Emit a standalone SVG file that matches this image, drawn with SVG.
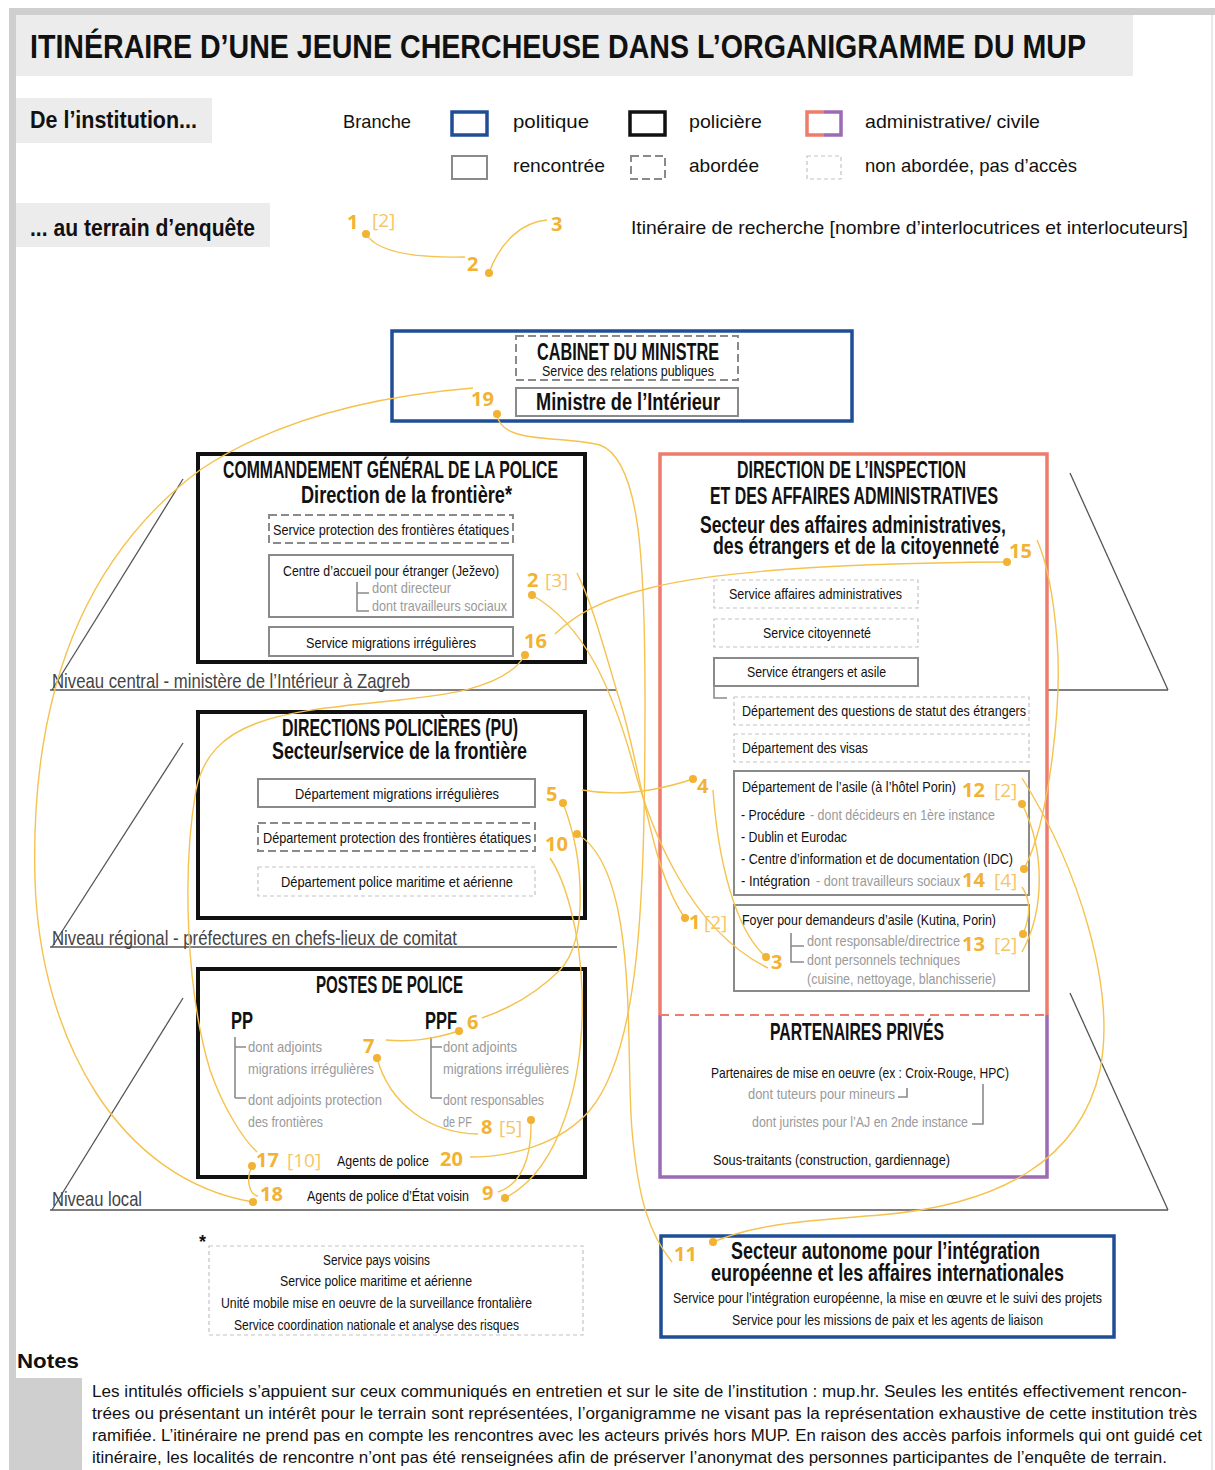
<svg xmlns="http://www.w3.org/2000/svg" width="1215" height="1470" viewBox="0 0 1215 1470">
<style>
text{font-family:"Liberation Sans Narrow","Liberation Sans",Arial,sans-serif}
.t{font-size:15px;fill:#111}
.g{font-size:15px;fill:#9a9a9a}
.h{font-size:23px;font-weight:bold;fill:#111}
.leg{font-size:19px;fill:#111}
.lvl{font-size:21px;fill:#444}
.n{font-family:"Open Sans","Liberation Sans",sans-serif;font-size:20px;font-weight:bold;fill:#f2b233}
.b{font-family:"Open Sans","Liberation Sans",sans-serif;font-size:19px;fill:#f6c565}
.note{font-size:16px;fill:#111}
.pol{fill:none;stroke:#1f4e96;stroke-width:3.5}
.police{fill:none;stroke:#111;stroke-width:4}
.met{fill:#fff;stroke:#8a8a8a;stroke-width:2}
.abo{fill:#fff;stroke:#8a8a8a;stroke-width:2;stroke-dasharray:8 4}
.non{fill:#fff;stroke:#c4c4c4;stroke-width:1.2;stroke-dasharray:4 3}
.brk{fill:none;stroke:#8a8a8a;stroke-width:1.6}
.lv{fill:none;stroke:#555;stroke-width:1.3}
.it{fill:none;stroke:#f5c24e;stroke-width:1.4}
.dot{fill:#f2b233}
</style>

<!-- page frame -->
<rect x="9" y="8" width="1206" height="7" fill="#cfcfcf"/>
<rect x="9" y="8" width="7" height="1462" fill="#cfcfcf"/>
<line x1="1212" y1="15" x2="1212" y2="1470" stroke="#e2e2e2" stroke-width="1.5"/>

<!-- title -->
<g id="title">
<rect x="16" y="15" width="1117" height="61" fill="#ececec"/>
<text x="30" y="58" font-size="34" font-weight="bold" fill="#111" textLength="1056" lengthAdjust="spacingAndGlyphs">ITINÉRAIRE D’UNE JEUNE CHERCHEUSE DANS L’ORGANIGRAMME DU MUP</text>
</g>

<!-- legend -->
<g id="legend">
<rect x="16" y="98" width="196" height="45" fill="#ececec"/>
<text x="30" y="128" font-size="24" font-weight="bold" fill="#111" textLength="167" lengthAdjust="spacingAndGlyphs">De l’institution...</text>
<rect x="16" y="203" width="254" height="44" fill="#ececec"/>
<text x="30" y="236" font-size="24" font-weight="bold" fill="#111" textLength="225" lengthAdjust="spacingAndGlyphs">... au terrain d’enquête</text>
<text class="leg" x="343" y="128" textLength="68" lengthAdjust="spacingAndGlyphs">Branche</text>
<rect x="452" y="112" width="35" height="23" class="pol"/>
<text class="leg" x="513" y="128" textLength="76" lengthAdjust="spacingAndGlyphs">politique</text>
<rect x="630" y="112" width="35" height="23" fill="none" stroke="#111" stroke-width="3.5"/>
<text class="leg" x="689" y="128" textLength="73" lengthAdjust="spacingAndGlyphs">policière</text>
<path d="M824,112 H807 V135 H824" fill="none" stroke="#ee7b6b" stroke-width="3.5"/>
<path d="M824,112 H841 V135 H824" fill="none" stroke="#9b6bb5" stroke-width="3.5"/>
<text class="leg" x="865" y="128" textLength="175" lengthAdjust="spacingAndGlyphs">administrative/ civile</text>
<rect x="452" y="156" width="35" height="23" class="met"/>
<text class="leg" x="513" y="172" textLength="92" lengthAdjust="spacingAndGlyphs">rencontrée</text>
<rect x="631" y="156" width="34" height="23" class="abo" stroke-dasharray="6 4"/>
<text class="leg" x="689" y="172" textLength="70" lengthAdjust="spacingAndGlyphs">abordée</text>
<rect x="807" y="156" width="34" height="23" class="non"/>
<text class="leg" x="865" y="172" textLength="212" lengthAdjust="spacingAndGlyphs">non abordée, pas d’accès</text>
<path class="it" d="M366,234 C378,254 420,258 465,257"/>
<path class="it" d="M489,273 C500,242 522,222 547,220"/>
<circle class="dot" cx="366" cy="234" r="4"/>
<circle class="dot" cx="489" cy="273" r="4"/>
<text class="n" x="347" y="229">1</text>
<text class="b" x="372" y="227">[2]</text>
<text class="n" x="467" y="271">2</text>
<text class="n" x="551" y="231">3</text>
<text class="leg" x="631" y="234" textLength="557" lengthAdjust="spacingAndGlyphs">Itinéraire de recherche [nombre d’interlocutrices et interlocuteurs]</text>
</g>

<!-- level lines -->
<g id="levels">
<line class="lv" x1="50" y1="690" x2="617" y2="690"/>
<line class="lv" x1="52" y1="690" x2="183" y2="479"/>
<line class="lv" x1="1048" y1="690" x2="1168" y2="690"/>
<line class="lv" x1="1070" y1="473" x2="1168" y2="690"/>
<text class="lvl" x="52" y="688" textLength="358" lengthAdjust="spacingAndGlyphs">Niveau central - ministère de l’Intérieur à Zagreb</text>
<line class="lv" x1="50" y1="947" x2="617" y2="947"/>
<line class="lv" x1="52" y1="947" x2="183" y2="743"/>
<text class="lvl" x="52" y="945" textLength="405" lengthAdjust="spacingAndGlyphs">Niveau régional - préfectures en chefs-lieux de comitat</text>
<line class="lv" x1="50" y1="1210" x2="1168" y2="1210"/>
<line class="lv" x1="52" y1="1210" x2="183" y2="998"/>
<line class="lv" x1="1070" y1="993" x2="1168" y2="1210"/>
<text class="lvl" x="52" y="1206" textLength="90" lengthAdjust="spacingAndGlyphs">Niveau local</text>
</g>

<!-- Cabinet -->
<g id="cabinet">
<rect x="392" y="331" width="460" height="90" fill="#fff" class="pol"/>
<rect x="516" y="336" width="222" height="44" class="abo"/>
<text class="h" x="537" y="360" font-size="22" textLength="182" lengthAdjust="spacingAndGlyphs">CABINET DU MINISTRE</text>
<text class="t" x="542" y="376" textLength="172" lengthAdjust="spacingAndGlyphs">Service des relations publiques</text>
<rect x="516" y="388" width="222" height="28" class="met"/>
<text class="h" x="536" y="410" font-size="22" textLength="184" lengthAdjust="spacingAndGlyphs">Ministre de l’Intérieur</text>
</g>

<!-- Commandement -->
<g id="commandement">
<rect x="198" y="454" width="387" height="208" fill="#fff" class="police"/>
<text class="h" x="223" y="478" textLength="335" lengthAdjust="spacingAndGlyphs">COMMANDEMENT GÉNÉRAL DE LA POLICE</text>
<text class="h" x="301" y="503" textLength="211" lengthAdjust="spacingAndGlyphs">Direction de la frontière*</text>
<rect x="269" y="515" width="244" height="28" class="abo"/>
<text class="t" x="273" y="535" textLength="236" lengthAdjust="spacingAndGlyphs">Service protection des frontières étatiques</text>
<rect x="269" y="555" width="244" height="62" class="met"/>
<text class="t" x="283" y="576" textLength="216" lengthAdjust="spacingAndGlyphs">Centre d’accueil pour étranger (Ježevo)</text>
<path class="brk" d="M357,582 V593 H369 M357,593 V611 H369"/>
<text class="g" x="372" y="593" textLength="79" lengthAdjust="spacingAndGlyphs">dont directeur</text>
<text class="g" x="372" y="611" textLength="135" lengthAdjust="spacingAndGlyphs">dont travailleurs sociaux</text>
<rect x="269" y="627" width="244" height="29" class="met"/>
<text class="t" x="306" y="648" textLength="170" lengthAdjust="spacingAndGlyphs">Service migrations irrégulières</text>
</g>

<!-- Directions policieres -->
<g id="directions">
<rect x="198" y="712" width="387" height="206" fill="#fff" class="police"/>
<text class="h" x="282" y="736" textLength="236" lengthAdjust="spacingAndGlyphs">DIRECTIONS POLICIÈRES (PU)</text>
<text class="h" x="272" y="759" textLength="255" lengthAdjust="spacingAndGlyphs">Secteur/service de la frontière</text>
<rect x="258" y="779" width="277" height="28" class="met"/>
<text class="t" x="295" y="799" textLength="204" lengthAdjust="spacingAndGlyphs">Département migrations irrégulières</text>
<rect x="258" y="823" width="277" height="28" class="abo"/>
<text class="t" x="263" y="843" textLength="268" lengthAdjust="spacingAndGlyphs">Département protection des frontières étatiques</text>
<rect x="258" y="867" width="277" height="29" class="non"/>
<text class="t" x="281" y="887" textLength="232" lengthAdjust="spacingAndGlyphs">Département police maritime et aérienne</text>
</g>

<!-- Postes de police -->
<g id="postes">
<rect x="198" y="969" width="387" height="208" fill="#fff" class="police"/>
<text class="h" x="316" y="993" textLength="147" lengthAdjust="spacingAndGlyphs">POSTES DE POLICE</text>
<text class="h" x="231" y="1029" textLength="22" lengthAdjust="spacingAndGlyphs">PP</text>
<text class="h" x="425" y="1029" textLength="32" lengthAdjust="spacingAndGlyphs">PPF</text>
<path class="brk" d="M235,1037 V1098 M235,1047 H246 M235,1098 H246"/>
<text class="g" x="248" y="1052" textLength="74" lengthAdjust="spacingAndGlyphs">dont adjoints</text>
<text class="g" x="248" y="1074" textLength="126" lengthAdjust="spacingAndGlyphs">migrations irrégulières</text>
<text class="g" x="248" y="1105" textLength="134" lengthAdjust="spacingAndGlyphs">dont adjoints protection</text>
<text class="g" x="248" y="1127" textLength="75" lengthAdjust="spacingAndGlyphs">des frontières</text>
<path class="brk" d="M431,1037 V1098 M431,1047 H442 M431,1098 H442"/>
<text class="g" x="443" y="1052" textLength="74" lengthAdjust="spacingAndGlyphs">dont adjoints</text>
<text class="g" x="443" y="1074" textLength="126" lengthAdjust="spacingAndGlyphs">migrations irrégulières</text>
<text class="g" x="443" y="1105" textLength="101" lengthAdjust="spacingAndGlyphs">dont responsables</text>
<text class="g" x="443" y="1127" textLength="29" lengthAdjust="spacingAndGlyphs">de PF</text>
<text class="t" x="337" y="1166" textLength="92" lengthAdjust="spacingAndGlyphs">Agents de police</text>
<text class="t" x="307" y="1201" textLength="162" lengthAdjust="spacingAndGlyphs">Agents de police d’État voisin</text>
</g>

<!-- Direction de l'inspection + partenaires prives -->
<g id="inspection">
<rect x="660" y="454" width="387" height="723" fill="#fff"/>
<path d="M660,1015 V454 H1047 V1015" fill="none" stroke="#ee7b6b" stroke-width="3.5"/>
<path d="M660,1015 V1177 H1047 V1015" fill="none" stroke="#9b6bb5" stroke-width="3.5"/>
<line x1="660" y1="1015" x2="1047" y2="1015" stroke="#ee7b6b" stroke-width="2" stroke-dasharray="9 6"/>
<text class="h" x="737" y="478" textLength="229" lengthAdjust="spacingAndGlyphs">DIRECTION DE L’INSPECTION</text>
<text class="h" x="710" y="504" textLength="288" lengthAdjust="spacingAndGlyphs">ET DES AFFAIRES ADMINISTRATIVES</text>
<text class="h" x="700" y="533" textLength="306" lengthAdjust="spacingAndGlyphs">Secteur des affaires administratives,</text>
<text class="h" x="713" y="554" textLength="286" lengthAdjust="spacingAndGlyphs">des étrangers et de la citoyenneté</text>
<rect x="714" y="580" width="204" height="28" class="non"/>
<text class="t" x="729" y="599" textLength="173" lengthAdjust="spacingAndGlyphs">Service affaires administratives</text>
<rect x="714" y="619" width="204" height="28" class="non"/>
<text class="t" x="763" y="638" textLength="108" lengthAdjust="spacingAndGlyphs">Service citoyenneté</text>
<rect x="714" y="658" width="204" height="28" class="met"/>
<text class="t" x="747" y="677" textLength="139" lengthAdjust="spacingAndGlyphs">Service étrangers et asile</text>
<path class="brk" d="M714,686 V698 H727"/>
<rect x="734" y="697" width="295" height="28" class="non"/>
<text class="t" x="742" y="716" textLength="284" lengthAdjust="spacingAndGlyphs">Département des questions de statut des étrangers</text>
<rect x="734" y="734" width="295" height="28" class="non"/>
<text class="t" x="742" y="753" textLength="126" lengthAdjust="spacingAndGlyphs">Département des visas</text>
<rect x="734" y="771" width="295" height="124" class="met"/>
<text class="t" x="742" y="792" textLength="214" lengthAdjust="spacingAndGlyphs">Département de l’asile (à l’hôtel Porin)</text>
<text class="t" x="741" y="820" textLength="64" lengthAdjust="spacingAndGlyphs">- Procédure</text>
<text class="g" x="810" y="820" textLength="185" lengthAdjust="spacingAndGlyphs">- dont décideurs en 1ère instance</text>
<text class="t" x="741" y="842" textLength="106" lengthAdjust="spacingAndGlyphs">- Dublin et Eurodac</text>
<text class="t" x="741" y="864" textLength="272" lengthAdjust="spacingAndGlyphs">- Centre d’information et de documentation (IDC)</text>
<text class="t" x="741" y="886" textLength="69" lengthAdjust="spacingAndGlyphs">- Intégration</text>
<text class="g" x="816" y="886" textLength="144" lengthAdjust="spacingAndGlyphs">- dont travailleurs sociaux</text>
<rect x="734" y="905" width="295" height="86" class="met"/>
<text class="t" x="742" y="925" textLength="254" lengthAdjust="spacingAndGlyphs">Foyer pour demandeurs d’asile (Kutina, Porin)</text>
<path class="brk" d="M791,933 V946 H804 M791,946 V962 H804"/>
<text class="g" x="807" y="946" textLength="153" lengthAdjust="spacingAndGlyphs">dont responsable/directrice</text>
<text class="g" x="807" y="965" textLength="153" lengthAdjust="spacingAndGlyphs">dont personnels techniques</text>
<text class="g" x="807" y="984" textLength="189" lengthAdjust="spacingAndGlyphs">(cuisine, nettoyage, blanchisserie)</text>
<text class="h" x="770" y="1040" textLength="174" lengthAdjust="spacingAndGlyphs">PARTENAIRES PRIVÉS</text>
<text class="t" x="711" y="1078" textLength="298" lengthAdjust="spacingAndGlyphs">Partenaires de mise en oeuvre (ex : Croix-Rouge, HPC)</text>
<text class="g" x="748" y="1099" textLength="147" lengthAdjust="spacingAndGlyphs">dont tuteurs pour mineurs</text>
<path class="brk" d="M898,1097 H907 V1088"/>
<text class="g" x="752" y="1127" textLength="216" lengthAdjust="spacingAndGlyphs">dont juristes pour l’AJ en 2nde instance</text>
<path class="brk" d="M983,1084 V1124 H972"/>
<text class="t" x="713" y="1165" textLength="237" lengthAdjust="spacingAndGlyphs">Sous-traitants (construction, gardiennage)</text>
</g>

<!-- asterisk box -->
<g id="asterisk">
<text x="199" y="1248" font-size="18" font-weight="bold" fill="#111">*</text>
<rect x="209" y="1246" width="374" height="89" class="non"/>
<text class="t" x="323" y="1265" textLength="107" lengthAdjust="spacingAndGlyphs">Service pays voisins</text>
<text class="t" x="280" y="1286" textLength="192" lengthAdjust="spacingAndGlyphs">Service police maritime et aérienne</text>
<text class="t" x="221" y="1308" textLength="311" lengthAdjust="spacingAndGlyphs">Unité mobile mise en oeuvre de la surveillance frontalière</text>
<text class="t" x="234" y="1330" textLength="285" lengthAdjust="spacingAndGlyphs">Service coordination nationale et analyse des risques</text>
</g>

<!-- Secteur autonome -->
<g id="secteur-autonome">
<rect x="661" y="1236" width="453" height="101" fill="#fff" class="pol"/>
<text class="h" x="731" y="1259" textLength="309" lengthAdjust="spacingAndGlyphs">Secteur autonome pour l’intégration</text>
<text class="h" x="711" y="1281" textLength="353" lengthAdjust="spacingAndGlyphs">européenne et les affaires internationales</text>
<text class="t" x="673" y="1303" textLength="429" lengthAdjust="spacingAndGlyphs">Service pour l’intégration européenne, la mise en œuvre et le suivi des projets</text>
<text class="t" x="732" y="1325" textLength="311" lengthAdjust="spacingAndGlyphs">Service pour les missions de paix et les agents de liaison</text>
</g>

<!-- itinerary connectors -->
<g id="itinerary">
<path class="it" d="M685,918 C650,870 640,760 618,695 C603,645 592,603 577,573"/>
<path class="it" d="M532,595 C585,625 612,690 632,760 C650,830 690,930 768,968"/>
<path class="it" d="M766,957 C735,930 718,860 713,790"/>
<path class="it" d="M693,779 C660,790 620,797 582,790"/>
<path class="it" d="M563,803 C585,860 588,940 560,970 C535,995 505,1010 482,1018"/>
<path class="it" d="M459,1031 C430,1040 410,1042 386,1040"/>
<path class="it" d="M377,1058 C390,1105 430,1133 478,1134"/>
<path class="it" d="M531,1120 C532,1160 520,1185 498,1192"/>
<path class="it" d="M505,1198 C560,1170 585,1080 582,990 C580,930 565,880 550,858"/>
<path class="it" d="M577,834 C640,870 625,1050 632,1130 C638,1200 650,1235 672,1262"/>
<path class="it" d="M713,1242 C760,1222 820,1220 880,1215 C1000,1205 1080,1160 1100,1070 C1116,990 1080,870 1022,778"/>
<path class="it" d="M1022,804 C1045,850 1045,910 1022,952"/>
<path class="it" d="M1023,934 C1031,915 1031,900 1022,887"/>
<path class="it" d="M1024,869 C1050,820 1062,700 1057,640 C1053,590 1046,560 1037,540"/>
<path class="it" d="M1007,562 C850,563 720,570 650,588 C600,600 575,615 555,634"/>
<path class="it" d="M525,655 C505,690 440,696 380,702 C280,712 210,720 196,790 C182,870 186,990 210,1070 C224,1110 244,1140 257,1152"/>
<path class="it" d="M252,1166 C245,1180 250,1195 258,1196"/>
<path class="it" d="M253,1202 C120,1180 40,1040 35,880 C30,700 80,560 200,470 C290,410 400,394 473,388"/>
<path class="it" d="M497,414 C500,445 560,435 600,445 C640,460 645,560 645,700 C645,900 640,1050 590,1110 C560,1145 510,1157 470,1157"/>
<circle class="dot" cx="685" cy="918" r="4"/>
<circle class="dot" cx="532" cy="595" r="4"/>
<circle class="dot" cx="766" cy="957" r="4"/>
<circle class="dot" cx="693" cy="779" r="4"/>
<circle class="dot" cx="563" cy="803" r="4"/>
<circle class="dot" cx="459" cy="1031" r="4"/>
<circle class="dot" cx="377" cy="1058" r="4"/>
<circle class="dot" cx="531" cy="1120" r="4"/>
<circle class="dot" cx="505" cy="1198" r="4"/>
<circle class="dot" cx="577" cy="834" r="4"/>
<circle class="dot" cx="713" cy="1242" r="4"/>
<circle class="dot" cx="1022" cy="804" r="4"/>
<circle class="dot" cx="1023" cy="934" r="4"/>
<circle class="dot" cx="1024" cy="869" r="4"/>
<circle class="dot" cx="1007" cy="562" r="4"/>
<circle class="dot" cx="525" cy="655" r="4"/>
<circle class="dot" cx="252" cy="1166" r="4"/>
<circle class="dot" cx="253" cy="1202" r="4"/>
<circle class="dot" cx="497" cy="414" r="4"/>
</g>

<!-- itinerary labels -->
<g id="labels">
<text class="n" x="689" y="929">1</text><text class="b" x="704" y="929">[2]</text>
<text class="n" x="527" y="587">2</text><text class="b" x="545" y="587">[3]</text>
<text class="n" x="771" y="969">3</text>
<text class="n" x="697" y="793">4</text>
<text class="n" x="546" y="801">5</text>
<text class="n" x="467" y="1029">6</text>
<text class="n" x="363" y="1053">7</text>
<text class="n" x="481" y="1134">8</text><text class="b" x="499" y="1134">[5]</text>
<text class="n" x="482" y="1200">9</text>
<text class="n" x="545" y="851">10</text>
<text class="n" x="674" y="1261">11</text>
<text class="n" x="962" y="797">12</text><text class="b" x="994" y="797">[2]</text>
<text class="n" x="962" y="951">13</text><text class="b" x="994" y="951">[2]</text>
<text class="n" x="962" y="887">14</text><text class="b" x="994" y="887">[4]</text>
<text class="n" x="1009" y="558">15</text>
<text class="n" x="524" y="648">16</text>
<text class="n" x="256" y="1167">17</text><text class="b" x="287" y="1167">[10]</text>
<text class="n" x="260" y="1201">18</text>
<text class="n" x="471" y="406">19</text>
<text class="n" x="440" y="1166">20</text>
</g>

<!-- notes -->
<g id="notes">
<text x="17" y="1368" font-size="21" font-weight="bold" fill="#111" textLength="62" lengthAdjust="spacingAndGlyphs">Notes</text>
<rect x="16" y="1378" width="66" height="92" fill="#cfcfcf"/>
<text class="note" x="92" y="1397" textLength="1095" lengthAdjust="spacingAndGlyphs">Les intitulés officiels s’appuient sur ceux communiqués en entretien et sur le site de l’institution : mup.hr. Seules les entités effectivement rencon-</text>
<text class="note" x="92" y="1419" textLength="1105" lengthAdjust="spacingAndGlyphs">trées ou présentant un intérêt pour le terrain sont représentées, l’organigramme ne visant pas la représentation exhaustive de cette institution très</text>
<text class="note" x="92" y="1441" textLength="1110" lengthAdjust="spacingAndGlyphs">ramifiée. L’itinéraire ne prend pas en compte les rencontres avec les acteurs privés hors MUP. En raison des accès parfois informels qui ont guidé cet</text>
<text class="note" x="92" y="1463" textLength="1075" lengthAdjust="spacingAndGlyphs">itinéraire, les localités de rencontre n’ont pas été renseignées afin de préserver l’anonymat des personnes participantes de l’enquête de terrain.</text>
</g>
</svg>
